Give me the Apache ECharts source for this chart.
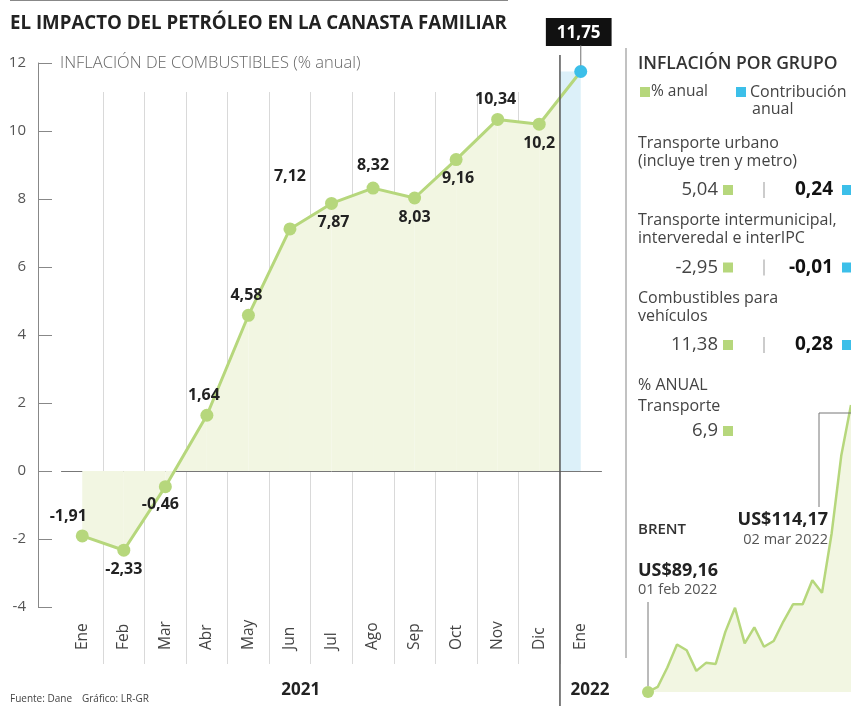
<!DOCTYPE html>
<html>
<head>
<meta charset="utf-8">
<script src="https://cdn.jsdelivr.net/npm/echarts@6/dist/echarts.min.js"></script>
<style>
  html, body { margin: 0; padding: 0; background: #fff; }
  #chart { width: 851px; height: 706px; }
</style>
</head>
<body>
<div id="chart"></div>
<script>
// datos
const meses = ['Ene', 'Feb', 'Mar', 'Abr', 'May', 'Jun', 'Jul', 'Ago', 'Sep', 'Oct', 'Nov', 'Dic', 'Ene']
const inflacion = [-1.91, -2.33, -0.46, 1.64, 4.58, 7.12, 7.87, 8.32, 8.03, 9.16, 10.34, 10.2, 11.75]
const yMin = -4
const yMax = 12
const yStep = 2
const anios = ['2021', '2022']

const gruposNombre = [
  ['Transporte urbano', '(incluye tren y metro)'],
  ['Transporte intermunicipal,', 'interveredal e interIPC'],
  ['Combustibles para', 'vehículos']
]
const gruposAnual = [5.04, -2.95, 11.38]
const gruposContrib = [0.24, -0.01, 0.28]
const transporteAnual = 6.9

// Brent, 01 feb 2022 - 02 mar 2022
const brent = [89.16, 89.6, 91.3, 93.3, 92.8, 91.0, 91.7, 91.6, 94.4, 96.5, 93.4,
  94.8, 93.1, 93.6, 95.3, 96.8, 96.8, 98.9, 97.8, 103.0, 109.8, 114.17]

const GREEN = '#b6d77c'
const FILL_GREEN = '#f2f6e2'
const BLUE = '#3cbfe9'
const FILL_BLUE = '#dcf0f9'
const FONT = "'Open Sans', 'Noto Sans', sans-serif"

const fmt = v => String(v).replace('.', ',')

// posiciones de etiquetas (layout)
const labelPos = ['top', 'bottom', 'bottom', 'top', 'top', 'top', 'bottom', 'top', 'bottom', 'bottom', 'top', 'bottom', 'top']
const labelOff = [[-14, 0], [0, 0], [-5, -2], [-3, 0], [-2, 0], [0, -33], [2, 0], [0, -3], [0, 0], [2, -1], [-2, -1], [0, 0], [-2, 0]]

const chart = echarts.init(document.getElementById('chart'))

const option = {
  animation: false,
  backgroundColor: '#fff',
  textStyle: { fontFamily: FONT },
  grid: [
    { left: 61.5, right: 249.5, top: 63, bottom: 99 },
    { left: 61.5, right: 249.5, top: 92, bottom: 42 },
    { left: 648, top: 405, width: 208, bottom: 14 }
  ],
  xAxis: [
    {
      type: 'category', gridIndex: 0, data: meses, boundaryGap: true,
      axisLine: { onZero: true, lineStyle: { color: '#777', width: 1 } },
      axisTick: { show: false }, axisLabel: { show: false }, splitLine: { show: false }
    },
    {
      type: 'category', gridIndex: 1, data: meses, boundaryGap: true,
      axisLine: { show: false }, axisTick: { show: false },
      axisLabel: { inside: true, rotate: 90, margin: 14, color: '#444', fontSize: 15.5, fontFamily: FONT },
      splitLine: { show: true, showMinLine: false, showMaxLine: false, lineStyle: { color: '#d9d9d9', width: 1 } }
    },
    { type: 'category', gridIndex: 2, boundaryGap: false, data: brent.map((v, i) => i), show: false }
  ],
  yAxis: [
    {
      type: 'value', gridIndex: 0, min: yMin, max: yMax, interval: yStep, offset: 23.5,
      axisLine: { show: true, lineStyle: { color: '#888', width: 1 } },
      axisTick: { show: true, inside: true, length: 14, lineStyle: { color: '#888' } },
      axisLabel: { margin: 12, color: '#555', fontSize: 15, fontFamily: FONT },
      splitLine: { show: false }
    },
    { type: 'value', gridIndex: 1, show: false },
    { type: 'value', gridIndex: 2, min: brent[0], max: brent[brent.length - 1], show: false }
  ],
  series: [
    {
      type: 'custom', xAxisIndex: 0, yAxisIndex: 0, silent: true, z: 1,
      data: inflacion.slice(0, -1).map((v, i) => [i, v, inflacion[i + 1]]),
      encode: { x: 0, y: [1, 2] },
      renderItem: function (params, api) {
        const i = api.value(0)
        const p0 = api.coord([i, api.value(1)])
        const p1 = api.coord([i + 1, api.value(2)])
        const z0 = api.coord([i, 0])[1]
        if (i < inflacion.length - 2) {
          return { type: 'polygon', shape: { points: [p0, p1, [p1[0], z0], [p0[0], z0]] }, style: { fill: FILL_GREEN } }
        }
        const mx = (p0[0] + p1[0]) / 2
        const my = (p0[1] + p1[1]) / 2
        return {
          type: 'group',
          children: [
            { type: 'polygon', shape: { points: [p0, [mx, my], [mx, z0], [p0[0], z0]] }, style: { fill: FILL_GREEN } },
            { type: 'rect', shape: { x: mx, y: p1[1], width: p1[0] - mx, height: z0 - p1[1] }, style: { fill: FILL_BLUE } }
          ]
        }
      }
    },
    {
      type: 'line', xAxisIndex: 0, yAxisIndex: 0, z: 5, silent: true,
      symbol: 'circle', symbolSize: 13,
      lineStyle: { color: GREEN, width: 3 },
      itemStyle: { color: GREEN },
      label: {
        show: true, fontFamily: FONT, fontWeight: 'bold', fontSize: 16, color: '#222',
        formatter: p => fmt(p.value)
      },
      data: inflacion.map((v, i) => {
        const item = { value: v, label: { position: labelPos[i], offset: labelOff[i] } }
        if (i === inflacion.length - 1) {
          item.itemStyle = { color: BLUE }
          item.label = {
            position: 'top', offset: labelOff[i], distance: 19,
            backgroundColor: '#111', color: '#fff', fontSize: 17,
            padding: [7, 11, 4, 11]
          }
        }
        return item
      })
    },
    {
      type: 'line', xAxisIndex: 2, yAxisIndex: 2, silent: true, z: 3,
      symbol: 'none', showSymbol: true, showAllSymbol: true,
      lineStyle: { color: GREEN, width: 2.5 },
      itemStyle: { color: GREEN },
      areaStyle: { color: FILL_GREEN, origin: 'start', opacity: 1 },
      data: brent.map((v, i) => i === 0 ? { value: v, symbol: 'circle', symbolSize: 12 } : v)
    }
  ]
}

chart.setOption(option)

// elementos estáticos y anotaciones
const xDiv = (chart.convertToPixel({ xAxisIndex: 0 }, meses.length - 2) + chart.convertToPixel({ xAxisIndex: 0 }, meses.length - 1)) / 2
const pLast = chart.convertToPixel({ gridIndex: 0 }, [meses.length - 1, inflacion[inflacion.length - 1]])
const bFirst = chart.convertToPixel({ gridIndex: 2 }, [0, brent[0]])
const bLast = chart.convertToPixel({ gridIndex: 2 }, [brent.length - 1, brent[brent.length - 1]])
const xCenter2021 = (chart.convertToPixel({ xAxisIndex: 0 }, 0) + chart.convertToPixel({ xAxisIndex: 0 }, 11)) / 2 - 10

function txt (text, x, y, size, opts) {
  opts = opts || {}
  return {
    type: 'text', z: 100, silent: true,
    style: {
      text: text, x: x, y: y,
      fill: opts.fill || '#333',
      font: (opts.weight || 'normal') + ' ' + size + 'px ' + (opts.family || FONT),
      align: opts.align || 'left', textAlign: opts.align || 'left',
      verticalAlign: 'middle', textVerticalAlign: 'middle'
    }
  }
}
function sq (x, y, color) {
  return { type: 'rect', z: 100, silent: true, shape: { x: x, y: y - 5, width: 10, height: 10 }, style: { fill: color } }
}
function ln (x1, y1, x2, y2, color, w) {
  return { type: 'line', z: 90, silent: true, shape: { x1: x1, y1: y1, x2: x2, y2: y2 }, style: { stroke: color, lineWidth: w || 1 } }
}

const g = []
g.push(ln(10, 0.5, 508, 0.5, '#888', 1))
g.push(txt('EL IMPACTO DEL PETRÓLEO EN LA CANASTA FAMILIAR', 10, 24, 18.7, { weight: 'bold', fill: '#222', family: "'Liberation Sans Narrow', 'Open Sans', sans-serif" }))
g.push(txt('INFLACIÓN DE COMBUSTIBLES (% anual)', 60, 63, 16.5, { fill: '#666', weight: '300' }))

// divisores
g.push(ln(xDiv, 55, xDiv, 706, '#555', 1.5))
g.push(ln(626, 48, 626, 658, '#999', 1.2))
// conector de la etiqueta 11,75
g.push(ln(pLast[0], pLast[1] - 6, pLast[0], pLast[1] - 26, '#888', 1.2))

// años y fuente
g.push(txt(anios[0], xCenter2021, 690, 17, { weight: 'bold', align: 'center', fill: '#222' }))
g.push(txt(anios[1], (xDiv + 620) / 2, 690, 17, { weight: 'bold', align: 'center', fill: '#222' }))
g.push(txt('Fuente: Dane', 10, 699, 10, { fill: '#444' }))
g.push(txt('Gráfico: LR-GR', 82, 699, 10, { fill: '#444' }))

// panel derecho
g.push(txt('INFLACIÓN POR GRUPO', 638, 64, 17.5, { weight: '600', fill: '#333' }))
g.push(sq(640, 92, GREEN))
g.push(txt('% anual', 651, 92, 15.5, { fill: '#444' }))
g.push(sq(736, 92, BLUE))
g.push(txt('Contribución', 750, 92, 16, { fill: '#444' }))
g.push(txt('anual', 752, 109, 16, { fill: '#444' }))

gruposNombre.forEach((lines, i) => {
  const top = 143 + i * 77.5
  g.push(txt(lines[0], 638, top, 16, { fill: '#444' }))
  g.push(txt(lines[1], 638, top + 18, 16, { fill: '#444' }))
  const vy = top + 47
  g.push(txt(fmt(gruposAnual[i]), 718, vy, 18.5, { fill: '#444', align: 'right' }))
  g.push(sq(723, vy, GREEN))
  g.push(ln(764, vy - 8, 764, vy + 8, '#999', 1))
  g.push(txt(fmt(gruposContrib[i]), 833, vy, 19, { fill: '#111', align: 'right', weight: 'bold' }))
  g.push(sq(842, vy, BLUE))
})

g.push(txt('% ANUAL', 638, 385, 16, { fill: '#444' }))
g.push(txt('Transporte', 638, 406, 16, { fill: '#444' }))
g.push(txt(fmt(transporteAnual), 718, 431, 18.5, { fill: '#444', align: 'right' }))
g.push(sq(723, 431, GREEN))

// Brent
g.push(txt('BRENT', 638, 530, 15, { fill: '#333', weight: '600' }))
g.push(txt('US$' + fmt(brent[brent.length - 1]), 828, 520, 18, { fill: '#222', weight: 'bold', align: 'right' }))
g.push(txt('02 mar 2022', 828, 540, 14.5, { fill: '#555', align: 'right' }))
g.push(txt('US$' + fmt(brent[0]), 638, 571, 18, { fill: '#222', weight: 'bold' }))
g.push(txt('01 feb 2022', 638, 590, 14.5, { fill: '#555' }))
g.push(ln(bFirst[0], 602, bFirst[0], bFirst[1] - 6, '#777', 1))
g.push({
  type: 'polyline', z: 90, silent: true,
  shape: { points: [[819, 507], [819, 413], [bLast[0], 413]] },
  style: { stroke: '#777', lineWidth: 1, fill: null }
})

chart.setOption({ graphic: g })
</script>
</body>
</html>
